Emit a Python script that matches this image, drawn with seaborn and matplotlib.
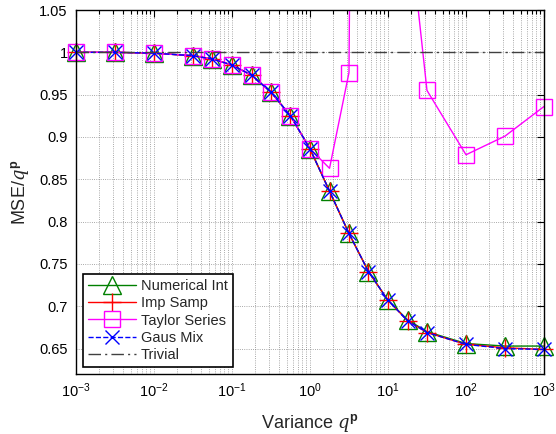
import numpy as np
import matplotlib
matplotlib.use('Agg')
import matplotlib.pyplot as plt
import seaborn as sns
from matplotlib.transforms import Bbox, TransformedBbox
from matplotlib.ticker import LogLocator, NullFormatter

# data
variance = [0.001, 0.00316, 0.01, 0.0316, 0.0562, 0.1, 0.178, 0.316, 0.562,
            1.0, 1.78, 3.16, 5.62, 10.0, 17.8, 31.6, 100.0, 316.0, 1000.0]
numerical_int = [1.000, 1.000, 0.999, 0.996, 0.992, 0.985, 0.973, 0.953, 0.925,
                 0.886, 0.836, 0.786, 0.741, 0.707, 0.684, 0.670, 0.656, 0.653, 0.653]
imp_samp = [1.000, 1.000, 0.999, 0.996, 0.992, 0.985, 0.973, 0.953, 0.925,
            0.886, 0.836, 0.786, 0.741, 0.707, 0.683, 0.669, 0.655, 0.651, 0.649]
taylor_series = [1.000, 1.000, 0.999, 0.996, 0.992, 0.985, 0.973, 0.953, 0.925,
                 0.886, 0.863, 0.976, 4.0, 3.0, 1.167, 0.955, 0.879, 0.901, 0.936]
gaus_mix = [1.000, 1.000, 0.999, 0.996, 0.992, 0.985, 0.973, 0.953, 0.925,
            0.886, 0.836, 0.786, 0.741, 0.707, 0.683, 0.669, 0.655, 0.650, 0.649]
trivial = [1.0] * len(variance)

y_ticks = [0.65, 0.7, 0.75, 0.8, 0.85, 0.9, 0.95, 1.0, 1.05]
y_tick_labels = ['0.65', '0.7', '0.75', '0.8', '0.85', '0.9', '0.95', '1', '1.05']

sns.set_theme(style='white')
plt.rcParams['font.family'] = ['Liberation Sans', 'DejaVu Sans']
plt.rcParams['mathtext.fontset'] = 'custom'
plt.rcParams['mathtext.rm'] = 'Liberation Sans'
plt.rcParams['mathtext.it'] = 'DejaVu Serif:italic'
plt.rcParams['mathtext.bf'] = 'Liberation Sans:bold'

fig = plt.figure(figsize=(5.56, 4.34), dpi=100)
ax = fig.add_axes([76/556, 1 - 374/434, 468/556, 364/434])

series = [
    ('Numerical Int', numerical_int, 'green', '^', 13, '-'),
    ('Imp Samp', imp_samp, 'red', '+', 13, '-'),
    ('Taylor Series', taylor_series, 'magenta', 's', 11, '-'),
    ('Gaus Mix', gaus_mix, 'blue', 'x', 10, '--'),
]

# clip box: wider than axes horizontally so edge markers show, but cut at top/bottom
clip = TransformedBbox(Bbox([[-0.06, 0.0], [1.06, 1.0]]), ax.transAxes)

for name, vals, col, mk, ms, ls in series:
    sns.lineplot(x=variance, y=vals, ax=ax, color=col, marker=mk, markersize=ms,
                 markerfacecolor='none', markeredgecolor=col, markeredgewidth=1,
                 linewidth=1, linestyle=ls, label=name)
    ax.lines[-1].set_clip_box(clip)

sns.lineplot(x=variance, y=trivial, ax=ax, color='#404040', linewidth=1,
             linestyle=(0, (9, 3, 1.5, 3)), label='Trivial')

ax.set_xscale('log')
ax.set_xlim(1e-3, 1e3)
ax.set_ylim(0.62, 1.05)
ax.set_yticks(y_ticks)
ax.set_yticklabels(y_tick_labels)
ax.xaxis.set_major_locator(LogLocator(base=10, numticks=10))
ax.xaxis.set_minor_locator(LogLocator(base=10, subs=np.arange(2, 10), numticks=10))
ax.xaxis.set_minor_formatter(NullFormatter())

ax.tick_params(which='both', direction='in', top=True, right=True, colors='black',
               labelsize=10.5, width=0.8)
ax.tick_params(which='major', length=5, pad=6)
ax.tick_params(which='minor', length=3)
ax.tick_params(axis='x', which='major', pad=5)

ax.grid(True, which='major', axis='both', linestyle=':', color='black', linewidth=0.6, alpha=0.45)
ax.grid(True, which='minor', axis='x', linestyle=':', color='black', linewidth=0.6, alpha=0.45)
for sp in ax.spines.values():
    sp.set_color('black')
    sp.set_linewidth(1.0)

ax.set_xlabel('Variance $q^{\\mathbf{p}}$', fontsize=13, labelpad=9)
ax.set_ylabel('MSE/$q^{\\mathbf{p}}$', fontsize=13, labelpad=6)

leg = ax.legend(loc='lower left', bbox_to_anchor=(0.015, 0.019), borderaxespad=0,
                fancybox=False, edgecolor='black', framealpha=1, fontsize=10.5,
                handlelength=3.3, handletextpad=0.3, labelspacing=0.22, borderpad=0.35)
leg.get_frame().set_linewidth(1.2)

fig.savefig('out.png', dpi=100)
